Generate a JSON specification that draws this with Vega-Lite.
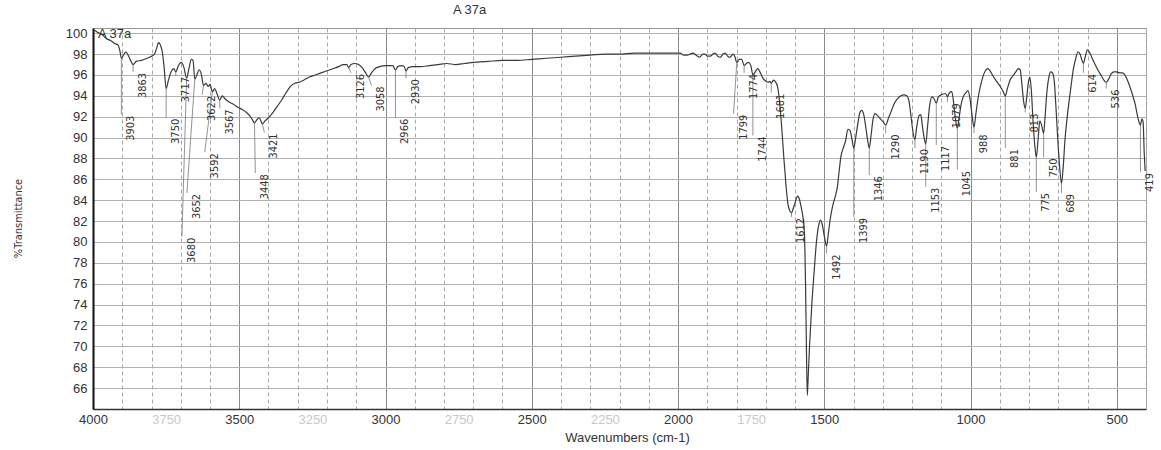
{
  "$schema": "https://vega.github.io/schema/vega-lite/v6.json",
  "autosize": "none",
  "width": 1053,
  "height": 381,
  "padding": {"left": 93, "top": 28, "right": 15, "bottom": 41},
  "background": "white",
  "title": {"text": "A 37a", "fontSize": 13, "font": "Liberation Sans", "fontWeight": "normal", "color": "#333", "anchor": "middle", "dx": -150, "offset": 10},
  "config": {
    "view": {"stroke": "#999", "strokeWidth": 1},
    "axis": {"labelFont": "Liberation Sans", "labelFontSize": 13, "labelColor": "#333", "titleFont": "Liberation Sans", "titleFontWeight": "normal", "titleColor": "#333", "labelOverlap": false, "labelFlush": false, "ticks": false}
  },
  "datasets": {
    "spectrum": [
      {"w":3996,"t":100.3},{"w":3985,"t":100.1},{"w":3970,"t":99.9},{"w":3955,"t":99.5},{"w":3940,"t":99.3},{"w":3925,"t":99.0},{"w":3915,"t":98.9},{"w":3908,"t":98.3},{"w":3903,"t":97.6},{"w":3896,"t":97.9},{"w":3888,"t":98.2},{"w":3878,"t":97.8},{"w":3870,"t":97.3},{"w":3863,"t":97.0},{"w":3852,"t":97.3},{"w":3835,"t":97.4},{"w":3815,"t":97.6},{"w":3800,"t":97.8},{"w":3790,"t":98.0},{"w":3782,"t":98.6},{"w":3776,"t":99.1},{"w":3770,"t":98.9},{"w":3763,"t":98.2},{"w":3757,"t":96.8},{"w":3750,"t":94.7},{"w":3742,"t":95.5},{"w":3733,"t":96.3},{"w":3724,"t":96.6},{"w":3717,"t":96.3},{"w":3708,"t":96.9},{"w":3698,"t":97.2},{"w":3690,"t":96.8},{"w":3680,"t":95.7},{"w":3672,"t":96.6},{"w":3664,"t":97.5},{"w":3658,"t":97.4},{"w":3652,"t":95.6},{"w":3645,"t":96.0},{"w":3637,"t":96.5},{"w":3630,"t":96.1},{"w":3622,"t":95.0},{"w":3614,"t":95.2},{"w":3606,"t":94.9},{"w":3600,"t":95.1},{"w":3592,"t":94.4},{"w":3584,"t":94.7},{"w":3576,"t":94.2},{"w":3567,"t":93.6},{"w":3558,"t":94.0},{"w":3548,"t":93.7},{"w":3535,"t":93.4},{"w":3520,"t":93.2},{"w":3505,"t":92.9},{"w":3490,"t":92.7},{"w":3475,"t":92.4},{"w":3462,"t":92.0},{"w":3455,"t":91.7},{"w":3448,"t":91.4},{"w":3440,"t":91.7},{"w":3432,"t":91.9},{"w":3426,"t":91.6},{"w":3421,"t":91.3},{"w":3412,"t":91.6},{"w":3400,"t":91.9},{"w":3385,"t":92.4},{"w":3370,"t":93.0},{"w":3355,"t":93.6},{"w":3340,"t":94.3},{"w":3325,"t":94.9},{"w":3310,"t":95.2},{"w":3295,"t":95.3},{"w":3280,"t":95.5},{"w":3260,"t":95.8},{"w":3240,"t":96.0},{"w":3220,"t":96.2},{"w":3200,"t":96.4},{"w":3180,"t":96.6},{"w":3160,"t":96.8},{"w":3145,"t":97.0},{"w":3132,"t":97.0},{"w":3126,"t":96.7},{"w":3118,"t":97.0},{"w":3105,"t":97.1},{"w":3092,"t":97.0},{"w":3080,"t":96.7},{"w":3068,"t":96.2},{"w":3058,"t":95.8},{"w":3048,"t":96.2},{"w":3036,"t":96.6},{"w":3020,"t":96.8},{"w":3000,"t":96.9},{"w":2985,"t":96.9},{"w":2975,"t":96.9},{"w":2966,"t":96.5},{"w":2958,"t":96.8},{"w":2945,"t":96.9},{"w":2936,"t":96.8},{"w":2930,"t":96.4},{"w":2922,"t":96.7},{"w":2905,"t":96.8},{"w":2880,"t":96.8},{"w":2850,"t":96.9},{"w":2820,"t":97.0},{"w":2790,"t":97.1},{"w":2760,"t":97.0},{"w":2730,"t":97.1},{"w":2700,"t":97.2},{"w":2650,"t":97.3},{"w":2600,"t":97.4},{"w":2550,"t":97.4},{"w":2500,"t":97.5},{"w":2450,"t":97.6},{"w":2400,"t":97.7},{"w":2350,"t":97.8},{"w":2300,"t":97.9},{"w":2250,"t":98.0},{"w":2200,"t":98.0},{"w":2150,"t":98.1},{"w":2100,"t":98.1},{"w":2050,"t":98.1},{"w":2010,"t":98.1},{"w":1993,"t":98.1},{"w":1980,"t":97.9},{"w":1969,"t":97.9},{"w":1958,"t":98.0},{"w":1949,"t":98.1},{"w":1938,"t":97.9},{"w":1926,"t":97.7},{"w":1915,"t":98.0},{"w":1908,"t":98.0},{"w":1899,"t":97.8},{"w":1890,"t":97.8},{"w":1880,"t":98.0},{"w":1874,"t":98.1},{"w":1864,"t":97.8},{"w":1856,"t":97.7},{"w":1846,"t":98.0},{"w":1839,"t":98.1},{"w":1830,"t":97.8},{"w":1822,"t":97.7},{"w":1812,"t":98.0},{"w":1806,"t":97.8},{"w":1799,"t":97.2},{"w":1790,"t":97.5},{"w":1782,"t":97.5},{"w":1774,"t":96.9},{"w":1766,"t":97.1},{"w":1758,"t":97.2},{"w":1751,"t":96.9},{"w":1744,"t":96.0},{"w":1736,"t":96.3},{"w":1727,"t":96.6},{"w":1720,"t":96.3},{"w":1710,"t":95.7},{"w":1700,"t":95.4},{"w":1692,"t":95.3},{"w":1686,"t":95.4},{"w":1681,"t":95.2},{"w":1674,"t":95.5},{"w":1666,"t":95.3},{"w":1659,"t":94.8},{"w":1652,"t":93.2},{"w":1645,"t":90.8},{"w":1638,"t":88.0},{"w":1631,"t":85.5},{"w":1624,"t":83.6},{"w":1618,"t":83.0},{"w":1612,"t":82.8},{"w":1605,"t":83.3},{"w":1598,"t":83.9},{"w":1592,"t":84.4},{"w":1586,"t":84.2},{"w":1580,"t":83.5},{"w":1574,"t":82.6},{"w":1568,"t":81.0},{"w":1564,"t":76.0},{"w":1561,"t":70.0},{"w":1558,"t":65.3},{"w":1555,"t":67.0},{"w":1550,"t":70.2},{"w":1543,"t":73.8},{"w":1535,"t":77.0},{"w":1526,"t":80.2},{"w":1519,"t":81.6},{"w":1513,"t":82.1},{"w":1507,"t":81.7},{"w":1500,"t":80.6},{"w":1492,"t":79.6},{"w":1486,"t":80.8},{"w":1479,"t":82.3},{"w":1470,"t":83.6},{"w":1462,"t":84.4},{"w":1455,"t":85.3},{"w":1449,"t":86.8},{"w":1443,"t":88.2},{"w":1435,"t":89.0},{"w":1427,"t":89.7},{"w":1419,"t":90.8},{"w":1412,"t":90.7},{"w":1405,"t":89.8},{"w":1399,"t":89.0},{"w":1393,"t":89.9},{"w":1386,"t":91.2},{"w":1378,"t":92.4},{"w":1372,"t":92.6},{"w":1365,"t":92.2},{"w":1357,"t":90.8},{"w":1352,"t":89.8},{"w":1346,"t":89.0},{"w":1340,"t":90.2},{"w":1333,"t":91.8},{"w":1326,"t":92.3},{"w":1318,"t":92.1},{"w":1308,"t":91.8},{"w":1298,"t":91.5},{"w":1290,"t":91.2},{"w":1280,"t":91.9},{"w":1270,"t":92.6},{"w":1260,"t":93.3},{"w":1250,"t":93.7},{"w":1238,"t":94.0},{"w":1228,"t":94.1},{"w":1218,"t":94.0},{"w":1211,"t":93.6},{"w":1204,"t":92.2},{"w":1197,"t":90.6},{"w":1190,"t":89.8},{"w":1184,"t":91.0},{"w":1176,"t":92.1},{"w":1170,"t":92.2},{"w":1164,"t":91.0},{"w":1158,"t":89.9},{"w":1153,"t":89.4},{"w":1147,"t":91.0},{"w":1140,"t":93.0},{"w":1132,"t":93.9},{"w":1124,"t":93.7},{"w":1117,"t":93.3},{"w":1110,"t":93.9},{"w":1100,"t":94.1},{"w":1090,"t":94.2},{"w":1084,"t":94.2},{"w":1079,"t":93.9},{"w":1072,"t":94.3},{"w":1064,"t":94.4},{"w":1058,"t":93.4},{"w":1052,"t":91.9},{"w":1045,"t":90.9},{"w":1039,"t":91.9},{"w":1032,"t":93.2},{"w":1025,"t":93.9},{"w":1016,"t":94.3},{"w":1009,"t":94.5},{"w":1002,"t":93.8},{"w":995,"t":92.2},{"w":988,"t":91.0},{"w":982,"t":92.2},{"w":975,"t":93.6},{"w":967,"t":94.8},{"w":958,"t":95.8},{"w":949,"t":96.4},{"w":941,"t":96.6},{"w":933,"t":96.4},{"w":925,"t":96.0},{"w":916,"t":95.6},{"w":906,"t":95.2},{"w":896,"t":94.8},{"w":888,"t":94.4},{"w":881,"t":94.0},{"w":874,"t":94.7},{"w":865,"t":95.5},{"w":855,"t":95.9},{"w":845,"t":96.3},{"w":836,"t":96.6},{"w":830,"t":96.5},{"w":824,"t":95.0},{"w":818,"t":93.4},{"w":813,"t":92.8},{"w":808,"t":93.8},{"w":802,"t":95.3},{"w":797,"t":95.8},{"w":792,"t":94.5},{"w":786,"t":91.5},{"w":780,"t":89.2},{"w":775,"t":88.1},{"w":769,"t":89.8},{"w":763,"t":91.6},{"w":757,"t":91.2},{"w":750,"t":90.4},{"w":745,"t":92.0},{"w":739,"t":94.3},{"w":732,"t":95.8},{"w":726,"t":96.3},{"w":720,"t":96.2},{"w":714,"t":95.5},{"w":708,"t":93.0},{"w":702,"t":90.0},{"w":696,"t":87.5},{"w":689,"t":85.6},{"w":683,"t":87.2},{"w":677,"t":89.8},{"w":670,"t":91.8},{"w":663,"t":93.5},{"w":656,"t":95.0},{"w":648,"t":96.6},{"w":640,"t":97.6},{"w":633,"t":98.2},{"w":627,"t":98.1},{"w":620,"t":97.5},{"w":614,"t":97.1},{"w":608,"t":97.7},{"w":600,"t":98.4},{"w":592,"t":98.1},{"w":584,"t":97.6},{"w":574,"t":97.0},{"w":563,"t":96.4},{"w":552,"t":95.9},{"w":544,"t":95.5},{"w":536,"t":95.3},{"w":528,"t":95.6},{"w":519,"t":96.1},{"w":510,"t":96.3},{"w":500,"t":96.3},{"w":490,"t":96.2},{"w":480,"t":96.2},{"w":470,"t":95.9},{"w":462,"t":95.4},{"w":453,"t":94.7},{"w":445,"t":94.0},{"w":437,"t":93.2},{"w":430,"t":92.2},{"w":424,"t":91.5},{"w":419,"t":91.2},{"w":414,"t":91.8},{"w":410,"t":91.5},{"w":406,"t":88.5},{"w":403,"t":86.8}
    ],
    "peaks": [
      {"w":3903,"t":97.6,"wl":3903,"tl":92.2},
      {"w":3863,"t":97.0,"wl":3863,"tl":96.3},
      {"w":3750,"t":94.7,"wl":3750,"tl":91.9},
      {"w":3717,"t":96.3,"wl":3717,"tl":95.9},
      {"w":3680,"t":95.7,"wl":3696,"tl":80.5},
      {"w":3652,"t":95.6,"wl":3679,"tl":84.7},
      {"w":3622,"t":95.0,"wl":3627,"tl":94.1},
      {"w":3592,"t":94.4,"wl":3618,"tl":88.6},
      {"w":3567,"t":93.6,"wl":3566,"tl":92.8},
      {"w":3448,"t":91.4,"wl":3445,"tl":86.6},
      {"w":3421,"t":91.3,"wl":3414,"tl":90.5},
      {"w":3126,"t":96.7,"wl":3118,"tl":96.2},
      {"w":3058,"t":95.8,"wl":3048,"tl":95.0},
      {"w":2966,"t":96.5,"wl":2966,"tl":91.9},
      {"w":2930,"t":96.4,"wl":2930,"tl":95.7},
      {"w":1799,"t":97.2,"wl":1810,"tl":92.3},
      {"w":1774,"t":96.9,"wl":1774,"tl":96.2},
      {"w":1744,"t":96.0,"wl":1744,"tl":90.2},
      {"w":1681,"t":95.2,"wl":1681,"tl":94.3},
      {"w":1612,"t":82.8,"wl":1612,"tl":82.4},
      {"w":1492,"t":79.6,"wl":1492,"tl":78.9},
      {"w":1399,"t":89.0,"wl":1399,"tl":82.4},
      {"w":1346,"t":89.0,"wl":1346,"tl":86.4},
      {"w":1290,"t":91.2,"wl":1290,"tl":90.4},
      {"w":1190,"t":89.8,"wl":1190,"tl":89.0},
      {"w":1153,"t":89.4,"wl":1153,"tl":85.3},
      {"w":1117,"t":93.3,"wl":1117,"tl":89.3},
      {"w":1079,"t":93.9,"wl":1079,"tl":93.4},
      {"w":1045,"t":90.9,"wl":1045,"tl":86.9},
      {"w":988,"t":91.0,"wl":988,"tl":90.4},
      {"w":881,"t":94.0,"wl":881,"tl":89.0},
      {"w":813,"t":92.8,"wl":813,"tl":92.4},
      {"w":775,"t":88.1,"wl":775,"tl":84.8},
      {"w":750,"t":90.4,"wl":750,"tl":88.1},
      {"w":689,"t":85.6,"wl":689,"tl":84.7},
      {"w":614,"t":97.1,"wl":614,"tl":96.2},
      {"w":536,"t":95.3,"wl":536,"tl":94.7},
      {"w":419,"t":91.2,"wl":419,"tl":86.7}
    ],
    "plabels": [
      {"p":"3903","w":3903,"t":92.2},{"p":"3863","w":3863,"t":96.3},{"p":"3750","w":3750,"t":91.9},{"p":"3717","w":3717,"t":95.9},
      {"p":"3680","w":3696,"t":80.5},{"p":"3652","w":3679,"t":84.7},{"p":"3622","w":3627,"t":94.1},{"p":"3592","w":3618,"t":88.6},
      {"p":"3567","w":3566,"t":92.8},{"p":"3448","w":3445,"t":86.6},{"p":"3421","w":3414,"t":90.5},{"p":"3126","w":3118,"t":96.2},
      {"p":"3058","w":3048,"t":95.0},{"p":"2966","w":2966,"t":91.9},{"p":"2930","w":2930,"t":95.7},{"p":"1799","w":1810,"t":92.3},
      {"p":"1774","w":1774,"t":96.2},{"p":"1744","w":1744,"t":90.2},{"p":"1681","w":1681,"t":94.3},{"p":"1612","w":1612,"t":82.4},
      {"p":"1492","w":1492,"t":78.9},{"p":"1399","w":1399,"t":82.4},{"p":"1346","w":1346,"t":86.4},{"p":"1290","w":1290,"t":90.4},
      {"p":"1190","w":1190,"t":89.0},{"p":"1153","w":1153,"t":85.3},{"p":"1117","w":1117,"t":89.3},{"p":"1079","w":1079,"t":93.4},
      {"p":"1045","w":1045,"t":86.9},{"p":"988","w":988,"t":90.4},{"p":"881","w":881,"t":89.0},{"p":"813","w":813,"t":92.4},
      {"p":"775","w":775,"t":84.8},{"p":"750","w":750,"t":88.1},{"p":"689","w":689,"t":84.7},{"p":"614","w":614,"t":96.2},
      {"p":"536","w":536,"t":94.7},{"p":"419","w":419,"t":86.7}
    ],
    "tag": [{"w": 3983, "t": 99.9, "s": "A 37a"}]
  },
  "encoding": {
    "x": {
      "field": "w", "type": "quantitative",
      "scale": {"domain": [4000, 400], "nice": false, "zero": false},
      "axis": {
        "title": "Wavenumbers (cm-1)", "titleFontSize": 13, "titleX": 534, "titleY": 28, "titleBaseline": "middle", "titleAlign": "center",
        "values": [4000,3900,3800,3750,3700,3600,3500,3400,3300,3250,3200,3100,3000,2900,2800,2750,2700,2600,2500,2400,2300,2250,2200,2100,2000,1900,1800,1750,1700,1600,1500,1400,1300,1200,1100,1000,900,800,700,600,500,400],
        "format": "d",
        "labelExpr": "((datum.value % 500 === 0) || (datum.value % 500 === 250)) && datum.value > 400 ? datum.label : ''",
        "labelColor": {"condition": {"test": "datum.value % 500 === 250", "value": "#c8c8c8"}, "value": "#333"},
        "labelPadding": 4, "labelOverlap": false,
        "domainColor": "#333", "domainWidth": 1.5,
        "grid": true,
        "gridDash": {"condition": {"test": "datum.value % 500 === 0", "value": []}, "value": [4, 3]},
        "gridColor": {"condition": {"test": "datum.value % 500 === 0", "value": "#8a8a8a"}, "value": "#a8a8a8"},
        "gridOpacity": {"condition": {"test": "datum.value % 100 !== 0", "value": 0}, "value": 1}
      }
    },
    "y": {
      "field": "t", "type": "quantitative",
      "scale": {"domain": [64, 100.5], "nice": false, "zero": false},
      "axis": {
        "title": "%Transmittance", "titleFont": "DejaVu Sans Condensed", "titleFontSize": 11, "titleX": -75, "titleY": 190, "titleAngle": 270, "titleAlign": "center", "titleBaseline": "middle",
        "values": [66,68,70,72,74,76,78,80,82,84,86,88,90,92,94,96,98,100],
        "labelPadding": 6, "labelOverlap": false,
        "domainColor": "#111", "domainWidth": 2,
        "grid": true, "gridWidth": 1, "gridColor": "#b0b0b0", "gridOpacity": 1
      }
    }
  },
  "layer": [
    {
      "data": {"name": "spectrum"},
      "mark": {"type": "line", "color": "#3a3a3a", "strokeWidth": 1.2, "interpolate": "monotone", "clip": true}
    },
    {
      "data": {"name": "peaks"},
      "mark": {"type": "rule", "color": "#777", "strokeWidth": 0.8},
      "encoding": {
        "x2": {"field": "wl"},
        "y2": {"field": "tl"}
      }
    },
    {
      "data": {"name": "plabels"},
      "mark": {"type": "text", "angle": 270, "align": "right", "baseline": "middle", "dy": 10, "dx": -1, "fontSize": 11, "font": "Liberation Sans Narrow, DejaVu Sans Condensed, sans-serif", "color": "#333"},
      "encoding": {
        "text": {"field": "p"}
      }
    },
    {
      "data": {"name": "tag"},
      "mark": {"type": "text", "align": "left", "baseline": "middle", "fontSize": 13, "font": "Liberation Sans", "color": "#333"},
      "encoding": {
        "text": {"field": "s"}
      }
    }
  ]
}
